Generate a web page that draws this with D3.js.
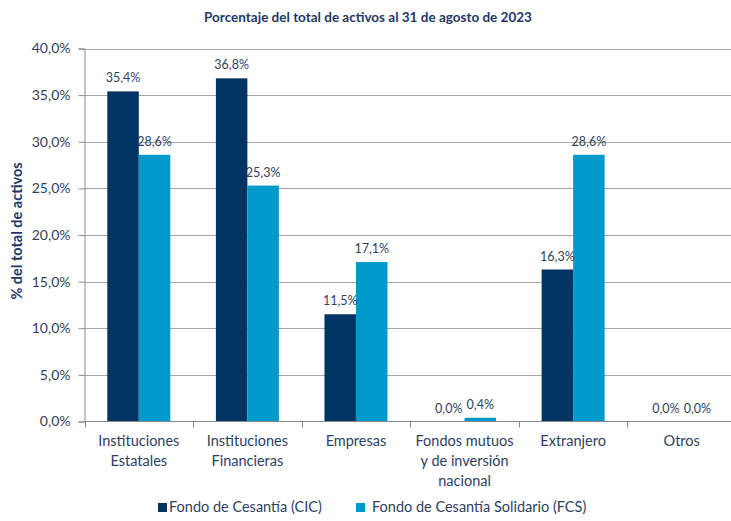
<!DOCTYPE html>
<html><head><meta charset="utf-8">
<script src="https://cdn.jsdelivr.net/npm/d3@7"></script>
<style>body{margin:0;background:#fff}svg{display:block;font-family:Lato,"Open Sans",sans-serif}</style>
</head><body>
<svg id="c" width="731" height="521"></svg>
<script>
const categories = [["Instituciones","Estatales"],["Instituciones","Financieras"],["Empresas"],["Fondos mutuos","y de inversión","nacional"],["Extranjero"],["Otros"]];
const seriesNames = ["Fondo de Cesantía (CIC)","Fondo de Cesantía Solidario (FCS)"];
const cic = [35.4, 36.8, 11.5, 0.0, 16.3, 0.0];
const fcs = [28.6, 25.3, 17.1, 0.4, 28.6, 0.0];
const yTicks = [0,5,10,15,20,25,30,35,40];
const colors = ["#003462","#0099cc"];
const title = "Porcentaje del total de activos al 31 de agosto de 2023";
const yTitle = "% del total de activos";

const svg = d3.select("#c");
const txt = "#2e3f5e";
const fmt = v => v.toFixed(1).replace(".", ",") + "%";
const idx = categories.map((d,i)=>i);
const x0 = d3.scaleBand().domain(idx).range([84.5, 736]).paddingInner(0).paddingOuter(0);
const x1 = d3.scaleBand().domain([0,1]).range([0, x0.bandwidth()]).paddingInner(0).paddingOuter(0.724);
const y = d3.scaleLinear().domain([0,40]).range([421.5, 48.5]);

svg.append("text").attr("x",368).attr("y",22).attr("text-anchor","middle")
  .attr("font-size",13.5).attr("font-weight","bold").attr("fill","#1f3864").text(title);

// gridlines
svg.append("g").selectAll("line").data(yTicks.filter(t=>t>0)).join("line")
  .attr("x1",84.5).attr("x2",731).attr("y1",d=>Math.round(y(d))+0.5).attr("y2",d=>Math.round(y(d))+0.5)
  .attr("stroke","#a6a6a6").attr("stroke-width",1);

// y axis
const yAxis = svg.append("g").attr("transform","translate(84.5,0)")
  .call(d3.axisLeft(y).tickValues(yTicks).tickFormat(fmt).tickSize(6).tickPadding(8));
yAxis.select(".domain").attr("stroke","#888");
yAxis.selectAll(".tick line").attr("stroke","#888");
yAxis.selectAll("text").attr("font-size",14).attr("fill",txt).attr("font-family","Lato");

svg.append("text").attr("transform","translate(22,231) rotate(-90)").attr("text-anchor","middle")
  .attr("font-size",14.5).attr("font-weight","bold").attr("fill","#1f3864").text(yTitle);

// bars
const data = idx.map(i => [cic[i], fcs[i]]);
const groups = svg.append("g").selectAll("g").data(data).join("g")
  .attr("transform",(d,i)=>`translate(${x0(i)},0)`);
groups.selectAll("rect").data(d=>d.map((v,s)=>({v,s}))).join("rect")
  .attr("x",d=>x1(d.s)).attr("width",x1.bandwidth())
  .attr("y",d=>y(d.v)).attr("height",d=>y(0)-y(d.v))
  .attr("fill",d=>colors[d.s]);
groups.selectAll("text").data(d=>d.map((v,s)=>({v,s}))).join("text")
  .attr("x",d=>x1(d.s)+x1.bandwidth()/2).attr("y",d=>y(d.v)-9)
  .attr("text-anchor","middle").attr("font-size",12.5).attr("fill",txt).text(d=>fmt(d.v));

// x axis
svg.append("line").attr("x1",84.5).attr("x2",731).attr("y1",421.5).attr("y2",421.5).attr("stroke","#888");
svg.append("g").selectAll("line").data(idx).join("line")
  .attr("x1",i=>Math.round(x0(i))+0.5).attr("x2",i=>Math.round(x0(i))+0.5)
  .attr("y1",421.5).attr("y2",427.5).attr("stroke","#888");
const xl = svg.append("g").selectAll("text").data(categories).join("text")
  .attr("text-anchor","middle").attr("font-size",14.5).attr("fill",txt)
  .attr("transform",(d,i)=>`translate(${x0(i)+x0.bandwidth()/2},446)`);
xl.selectAll("tspan").data(d=>d).join("tspan").attr("x",0).attr("dy",(d,j)=>j===0?0:20).text(d=>d);

// legend
const lx = [158, 356];
const lg = svg.append("g").selectAll("g").data(seriesNames).join("g")
  .attr("transform",(d,i)=>`translate(${lx[i]},512)`);
lg.append("rect").attr("x",0).attr("y",-9).attr("width",9).attr("height",9).attr("fill",(d,i)=>colors[i]);
lg.append("text").attr("x",(d,i)=>i===0?11:16).attr("y",0).attr("font-size",14.5).attr("fill",txt).text(d=>d);
</script>
</body></html>
